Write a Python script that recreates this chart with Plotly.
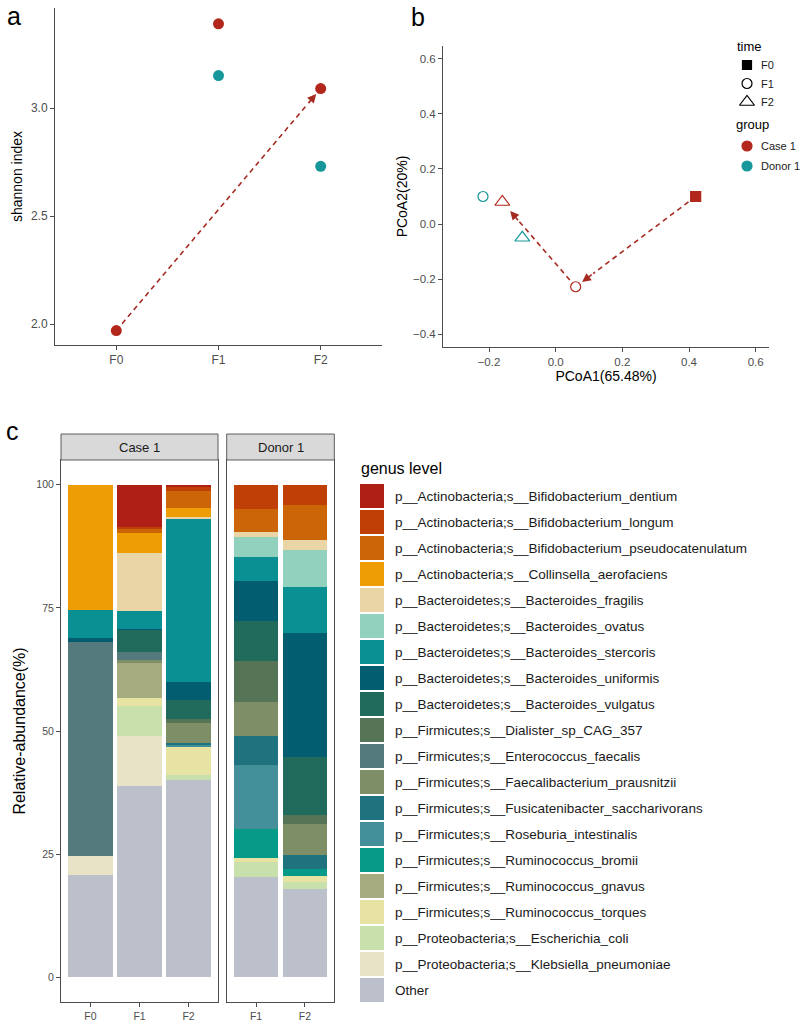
import plotly.graph_objects as go

W, H = 800, 1027
FONT = "Liberation Sans, Arial, Helvetica, sans-serif"

CASE_RED = "#B3261B"
DONOR_TEAL = "#16979A"
ARROW_RED = "#A52A1F"
LINE_GREY = "#4D4D4D"
TICK_GREY = "#4D4D4D"

# ---- panel a : shannon index ----
time_points = ["F0", "F1", "F2"]
case_time = ["F0", "F1", "F2"]
case_shannon = [1.97, 3.39, 3.09]
donor_time = ["F1", "F2"]
donor_shannon = [3.15, 2.73]

# ---- panel b : PCoA ----
case_pcoa1 = [0.42, 0.06, -0.16]
case_pcoa2 = [0.10, -0.228, 0.08]
donor_pcoa1 = [-0.218, -0.10]
donor_pcoa2 = [0.10, -0.05]
groups = ["Case 1", "Donor 1"]

# ---- panel c : relative abundance (legend order, top to bottom) ----
taxa = [
    "p__Actinobacteria;s__Bifidobacterium_dentium",
    "p__Actinobacteria;s__Bifidobacterium_longum",
    "p__Actinobacteria;s__Bifidobacterium_pseudocatenulatum",
    "p__Actinobacteria;s__Collinsella_aerofaciens",
    "p__Bacteroidetes;s__Bacteroides_fragilis",
    "p__Bacteroidetes;s__Bacteroides_ovatus",
    "p__Bacteroidetes;s__Bacteroides_stercoris",
    "p__Bacteroidetes;s__Bacteroides_uniformis",
    "p__Bacteroidetes;s__Bacteroides_vulgatus",
    "p__Firmicutes;s__Dialister_sp_CAG_357",
    "p__Firmicutes;s__Enterococcus_faecalis",
    "p__Firmicutes;s__Faecalibacterium_prausnitzii",
    "p__Firmicutes;s__Fusicatenibacter_saccharivorans",
    "p__Firmicutes;s__Roseburia_intestinalis",
    "p__Firmicutes;s__Ruminococcus_bromii",
    "p__Firmicutes;s__Ruminococcus_gnavus",
    "p__Firmicutes;s__Ruminococcus_torques",
    "p__Proteobacteria;s__Escherichia_coli",
    "p__Proteobacteria;s__Klebsiella_pneumoniae",
    "Other",
]
taxa_colors = [
    "#B01F16", "#C03F06", "#CB6508", "#EE9E04", "#E9D5A5",
    "#93D1BF", "#0A9093", "#035D70", "#216B5C", "#557556",
    "#557A7D", "#7E8E66", "#1F737F", "#43909A", "#069A88",
    "#A6AC80", "#E7E4A3", "#C8E0AB", "#E8E2C6", "#BBC0CA",
]
case_samples = ["F0", "F1", "F2"]
donor_samples = ["F1", "F2"]
case_f0 = [0, 0, 0, 25.4, 0, 0, 5.8, 0.7, 0, 0, 43.4, 0, 0, 0, 0, 0, 0, 0, 4.0, 20.7]
case_f1 = [8.5, 0.4, 0.9, 4.0, 11.8, 0, 3.6, 0.3, 4.4, 0, 1.6, 0.7, 0, 0, 0, 7.2, 1.6, 6.1, 10.1, 38.8]
case_f2 = [0.5, 0.7, 3.5, 1.8, 0.5, 0, 33.1, 3.6, 3.9, 0.7, 0, 4.1, 0.5, 0.3, 0, 0, 5.8, 0.9, 0, 40.1]
donor_f1 = [0, 5.0, 4.6, 0, 1.0, 4.1, 4.9, 8.1, 8.1, 8.3, 0, 6.9, 5.8, 13.1, 5.8, 0, 0.9, 3.0, 0, 20.4]
donor_f2 = [0, 4.2, 7.1, 0, 2.0, 7.4, 9.5, 25.1, 11.8, 1.7, 0, 6.4, 2.9, 0, 1.3, 0, 1.2, 1.5, 0, 17.9]


def px(x):
    return x / W


def py(y):
    return 1 - y / H


# layout boxes in pixels (left, right, top, bottom) and ranges
A_BOX = (55, 382, 8, 345)
A_XR, A_YR = [-0.6, 2.6], [1.903, 3.463]
B_BOX = (443, 769, 46, 347)
B_XR, B_YR = [-0.338, 0.640], [-0.447, 0.647]
C_CASE = (61, 218)
C_DONOR = (226.7, 334.3)
C_TOP, C_BOT = 460, 1002

fig = go.Figure()


def tail_point(x0, y0, x1, y1, box, xr, yr, dist):
    # point 'dist' pixels back from (x1, y1) along the segment
    sx = (box[1] - box[0]) / (xr[1] - xr[0])
    sy = (box[3] - box[2]) / (yr[1] - yr[0])
    dxp, dyp = (x1 - x0) * sx, (y1 - y0) * sy
    length = (dxp ** 2 + dyp ** 2) ** 0.5
    f = dist / length
    return x1 - (x1 - x0) * f, y1 - (y1 - y0) * f


def add_arrow(x0, y0, x1, y1, xref, yref, box, xr, yr, standoff):
    tx, ty = tail_point(x0, y0, x1, y1, box, xr, yr, standoff + 14)
    fig.add_trace(go.Scatter(
        x=[x0, tx], y=[y0, ty], mode="lines", xaxis=xref, yaxis=yref,
        line=dict(color=ARROW_RED, width=1.6, dash="5px,4px"),
        showlegend=False, hoverinfo="skip"))
    fig.add_annotation(
        x=x1, y=y1, ax=tx, ay=ty, xref=xref, yref=yref,
        axref=xref, ayref=yref, text="", showarrow=True,
        arrowhead=2, arrowsize=1.1, arrowwidth=1.6, arrowcolor=ARROW_RED,
        standoff=standoff)


# ---- panel a ----
ci = [time_points.index(t) for t in case_time]
di = [time_points.index(t) for t in donor_time]
add_arrow(ci[0], case_shannon[0], ci[2], case_shannon[2], "x", "y",
          A_BOX, A_XR, A_YR, 7)
fig.add_trace(go.Scatter(
    x=ci, y=case_shannon, mode="markers", xaxis="x", yaxis="y",
    marker=dict(color=CASE_RED, size=11), showlegend=False))
fig.add_trace(go.Scatter(
    x=di, y=donor_shannon, mode="markers", xaxis="x", yaxis="y",
    marker=dict(color=DONOR_TEAL, size=11), showlegend=False))

# ---- panel b ----
time_symbol = {"F0": "square", "F1": "circle", "F2": "triangle-up"}
time_size = {"F0": 10, "F1": 10, "F2": 13}
add_arrow(case_pcoa1[0], case_pcoa2[0], case_pcoa1[1], case_pcoa2[1], "x2", "y2",
          B_BOX, B_XR, B_YR, 8)
add_arrow(case_pcoa1[1], case_pcoa2[1], case_pcoa1[2], case_pcoa2[2], "x2", "y2",
          B_BOX, B_XR, B_YR, 12)
fig.add_trace(go.Scatter(
    x=case_pcoa1, y=case_pcoa2, mode="markers", xaxis="x2", yaxis="y2",
    marker=dict(symbol=[time_symbol[t] for t in case_time],
                size=[time_size[t] for t in case_time], opacity=1,
                color=[CASE_RED if t == "F0" else "white" for t in case_time],
                line=dict(color=CASE_RED, width=1.2)),
    showlegend=False))
fig.add_trace(go.Scatter(
    x=donor_pcoa1, y=donor_pcoa2, mode="markers", xaxis="x2", yaxis="y2",
    marker=dict(symbol=[time_symbol[t] for t in donor_time],
                size=[time_size[t] for t in donor_time], opacity=1,
                color="white", line=dict(color=DONOR_TEAL, width=1.2)),
    showlegend=False))

# legend for panel b drawn on a hidden helper axis (1 unit = 1 px)
leg_x = 747
time_y = [65 + 18.5 * i for i in range(len(time_points))]
group_y = [146 + 20 * i for i in range(len(groups))]
leg_colors = ["black", "black", "black", CASE_RED, DONOR_TEAL]
fig.add_trace(go.Scatter(
    x=[leg_x] * (len(time_points) + len(groups)), y=time_y + group_y,
    mode="markers", xaxis="x5", yaxis="y5",
    marker=dict(
        symbol=["square", "circle-open", "triangle-up-open", "circle", "circle"],
        size=[9, 10, 13, 10, 10], opacity=1,
        color=leg_colors, line=dict(width=1.2, color=leg_colors)),
    showlegend=False, hoverinfo="skip"))
fig.add_annotation(x=px(735), y=py(47), xref="paper", yref="paper", text="time",
                   showarrow=False, xanchor="left", yanchor="middle",
                   font=dict(size=13, color="black"))
fig.add_annotation(x=px(734), y=py(125), xref="paper", yref="paper", text="group",
                   showarrow=False, xanchor="left", yanchor="middle",
                   font=dict(size=13, color="black"))
for lbl, yy in zip(time_points + groups, time_y + group_y):
    fig.add_annotation(x=px(759), y=py(yy), xref="paper", yref="paper", text=lbl,
                       showarrow=False, xanchor="left", yanchor="middle",
                       font=dict(size=11, color="#1A1A1A"))

# ---- panel c ----
case_vals = [case_f0, case_f1, case_f2]
donor_vals = [donor_f1, donor_f2]
for k in reversed(range(len(taxa))):
    fig.add_trace(go.Bar(
        x=[case_samples.index(s) for s in case_samples],
        y=[v[k] for v in case_vals], width=0.9, xaxis="x3", yaxis="y3",
        marker=dict(color=taxa_colors[k], line=dict(width=0)),
        name=taxa[k], showlegend=False))
    fig.add_trace(go.Bar(
        x=[donor_samples.index(s) for s in donor_samples],
        y=[v[k] for v in donor_vals], width=0.9, xaxis="x4", yaxis="y4",
        marker=dict(color=taxa_colors[k], line=dict(width=0)),
        name=taxa[k], showlegend=False))

shapes = []
# facet strips
for (l, r), lbl in zip([C_CASE, C_DONOR], groups):
    shapes.append(dict(type="rect", xref="paper", yref="paper",
                       x0=px(l), x1=px(r), y0=py(460), y1=py(434),
                       fillcolor="#D9D9D9", line=dict(color=LINE_GREY, width=0.9)))
    fig.add_annotation(x=px((l + r) / 2), y=py(447), xref="paper", yref="paper",
                       text=lbl, showarrow=False, xanchor="center",
                       yanchor="middle", font=dict(size=13, color="#1A1A1A"))

# genus legend
fig.add_annotation(x=px(359), y=py(468), xref="paper", yref="paper",
                   text="genus level", showarrow=False, xanchor="left",
                   yanchor="middle", font=dict(size=16, color="black"))
for i, (name, col) in enumerate(zip(taxa, taxa_colors)):
    top = 484 + 26 * i
    shapes.append(dict(type="rect", xref="paper", yref="paper",
                       x0=px(360), x1=px(384), y0=py(top + 24), y1=py(top),
                       fillcolor=col, line=dict(width=0)))
    fig.add_annotation(x=px(393), y=py(top + 12), xref="paper", yref="paper",
                       text=name, showarrow=False, xanchor="left",
                       yanchor="middle", font=dict(size=13.5, color="#1A1A1A"))

# panel letters
for lbl, xx, yy in [("a", 5, 16), ("b", 409, 17), ("c", 4, 431)]:
    fig.add_annotation(x=px(xx), y=py(yy), xref="paper", yref="paper", text=lbl,
                       showarrow=False, xanchor="left", yanchor="middle",
                       font=dict(size=25, color="black"))

axis_common = dict(showgrid=False, zeroline=False, showline=True,
                   linecolor=LINE_GREY, linewidth=1, ticks="outside", ticklen=4,
                   tickcolor=LINE_GREY, tickwidth=1)

fig.update_layout(
    width=W, height=H,
    margin=dict(l=0, r=0, t=0, b=0),
    paper_bgcolor="white", plot_bgcolor="white",
    font=dict(family=FONT, color="black"),
    barmode="stack", bargap=0,
    showlegend=False,
    hovermode=False,
    shapes=shapes,
    xaxis=dict(axis_common, domain=[px(A_BOX[0]), px(A_BOX[1])], anchor="y",
               range=A_XR, tickvals=list(range(len(time_points))),
               ticktext=time_points, tickfont=dict(size=12, color=TICK_GREY)),
    yaxis=dict(axis_common, domain=[py(A_BOX[3]), py(A_BOX[2])], anchor="x",
               range=A_YR, tickvals=[2.0, 2.5, 3.0], tickformat=".1f",
               tickfont=dict(size=12, color=TICK_GREY),
               title=dict(text="shannon index", font=dict(size=14), standoff=5)),
    xaxis2=dict(axis_common, domain=[px(B_BOX[0]), px(B_BOX[1])], anchor="y2",
                range=B_XR, tickvals=[-0.2, 0.0, 0.2, 0.4, 0.6], tickformat=".1f",
                tickfont=dict(size=11.5, color=TICK_GREY),
                title=dict(text="PCoA1(65.48%)", font=dict(size=14), standoff=4)),
    yaxis2=dict(axis_common, domain=[py(B_BOX[3]), py(B_BOX[2])], anchor="x2",
                range=B_YR, tickvals=[-0.4, -0.2, 0.0, 0.2, 0.4, 0.6],
                tickformat=".1f", tickfont=dict(size=11.5, color=TICK_GREY),
                title=dict(text="PCoA2(20%)", font=dict(size=14), standoff=2)),
    xaxis3=dict(axis_common, domain=[px(C_CASE[0]), px(C_CASE[1])], anchor="y3",
                range=[-0.6, len(case_samples) - 0.4], mirror=True,
                tickvals=list(range(len(case_samples))), ticktext=case_samples,
                tickfont=dict(size=10.5, color=TICK_GREY)),
    yaxis3=dict(axis_common, domain=[py(C_BOT), py(C_TOP)], anchor="x3",
                range=[-5, 105], mirror=True, tickvals=[0, 25, 50, 75, 100],
                tickfont=dict(size=10.5, color=TICK_GREY),
                title=dict(text="Relative-abundance(%)", font=dict(size=16),
                           standoff=6)),
    xaxis4=dict(axis_common, domain=[px(C_DONOR[0]), px(C_DONOR[1])], anchor="y4",
                range=[-0.6, len(donor_samples) - 0.4], mirror=True,
                tickvals=list(range(len(donor_samples))), ticktext=donor_samples,
                tickfont=dict(size=10.5, color=TICK_GREY)),
    yaxis4=dict(axis_common, domain=[py(C_BOT), py(C_TOP)], anchor="x4",
                range=[-5, 105], mirror=True, ticks="", showticklabels=False),
    xaxis5=dict(domain=[px(728), px(800)], anchor="y5", range=[728, 800],
                visible=False, fixedrange=True),
    yaxis5=dict(domain=[py(180), py(36)], anchor="x5", range=[180, 36],
                visible=False, fixedrange=True),
)

# the page's default 8px body margin would push the figure off the window
fig.write_html("out.html",
               config={"displayModeBar": False},
               post_script="document.body.style.margin='0';"
                           "document.body.style.overflow='hidden';")
